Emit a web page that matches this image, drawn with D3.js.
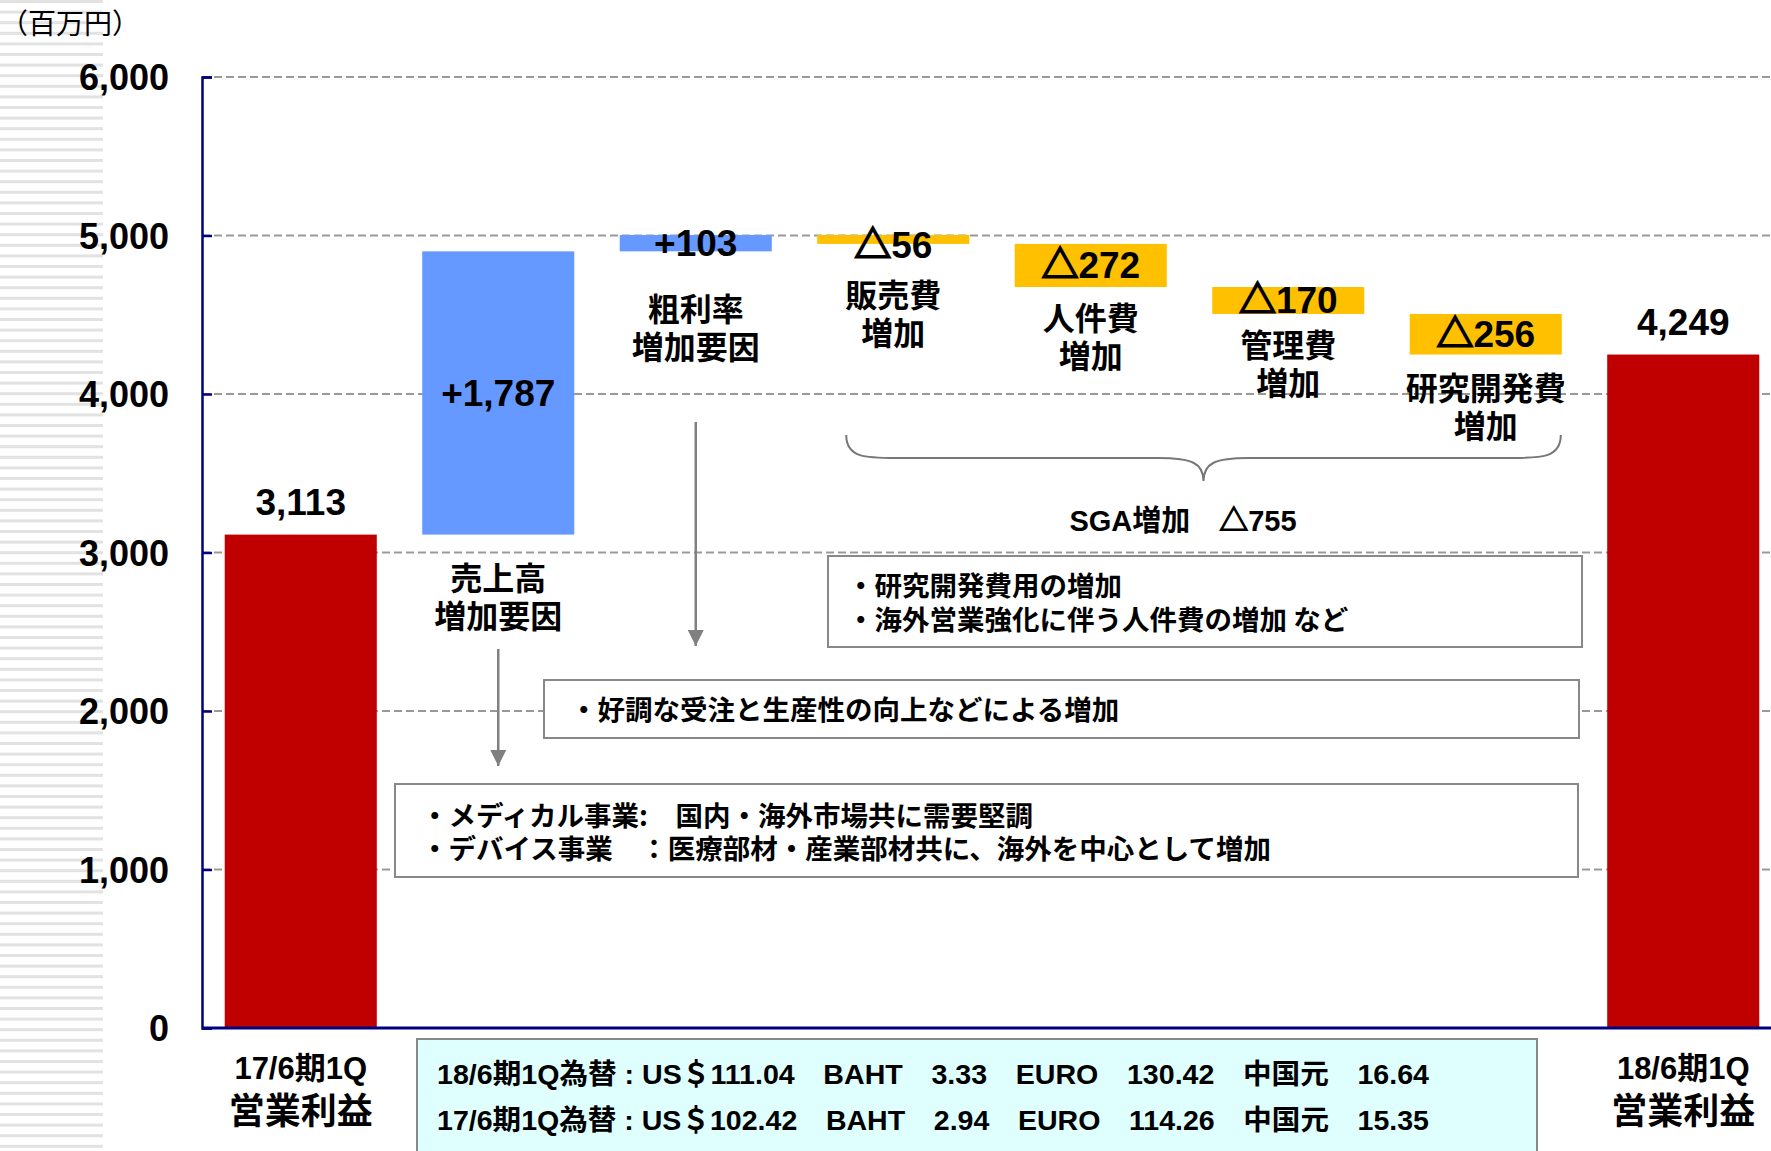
<!DOCTYPE html>
<html>
<head>
<meta charset="utf-8">
<script src="https://cdn.jsdelivr.net/npm/d3@7"></script>
<style>
  html, body { margin: 0; padding: 0; background: #fff; }
  svg { display: block; }
  text { white-space: pre; }
</style>
</head>
<body>
<div id="chart"></div>
<script>
// chart values
const categories = [
  "17/6期1Q\n営業利益",
  "売上高\n増加要因",
  "粗利率\n増加要因",
  "販売費\n増加",
  "人件費\n増加",
  "管理費\n増加",
  "研究開発費\n増加",
  "18/6期1Q\n営業利益"
];
const values = [3113, 1787, 103, -56, -272, -170, -256, 4249];
const kinds = ["total", "up", "up", "down", "down", "down", "down", "total"];
const valueLabels = ["3,113", "+1,787", "+103", "△56", "△272", "△170", "△256", "4,249"];
const yTicks = [0, 1000, 2000, 3000, 4000, 5000, 6000];

const unitLabel = "（百万円）";
const sgaLabel = "SGA増加　△755";
const noteSga = ["・研究開発費用の増加", "・海外営業強化に伴う人件費の増加 など"];
const noteMargin = ["・好調な受注と生産性の向上などによる増加"];
const noteSales = ["・メディカル事業:　国内・海外市場共に需要堅調", "・デバイス事業　：医療部材・産業部材共に、海外を中心として増加"];
const fxLines = [
  "18/6期1Q為替 : US＄111.04　BAHT　3.33　EURO　130.42　中国元　16.64",
  "17/6期1Q為替 : US＄102.42　BAHT　2.94　EURO　114.26　中国元　15.35"
];

const colors = { total: "#C00000", up: "#6699FF", down: "#FFC000" };
const numFont = "'Liberation Sans', Arial, 'Noto Sans CJK JP', sans-serif";
const jpFont = "'Noto Sans CJK JP', 'Liberation Sans', sans-serif";

const width = 1771, height = 1151;
const axisX = 202;

// waterfall start / end
let run = 0;
const bars = values.map((v, i) => {
  let start, end;
  if (kinds[i] === "total") { start = 0; end = v; run = v; }
  else { start = run; end = run + v; run = end; }
  return { i, v, start, end, kind: kinds[i], label: valueLabels[i], cat: categories[i].split("\n") };
});

const x = d3.scaleBand()
  .domain(d3.range(categories.length))
  .range([axisX, 1782])
  .paddingInner(0.23)
  .paddingOuter(0.115);

const y = d3.scaleLinear()
  .domain([0, 6000])
  .range([1028, 77]);

const svg = d3.select("#chart").append("svg")
  .attr("width", width)
  .attr("height", height);

// splits a "△123" label so the triangle can be drawn heavier
function withDelta(sel, strokeW) {
  sel.each(function (t) {
    const el = d3.select(this);
    const parts = t.startsWith("△") ? ["△", t.slice(1)] : [t];
    el.selectAll("tspan")
      .data(parts)
      .join("tspan")
      .attr("stroke", d => d === "△" ? "#000" : null)
      .attr("stroke-width", d => d === "△" ? strokeW : null)
      .text(d => d);
  });
}

// striped strip on the left edge
svg.append("g").selectAll("rect")
  .data(d3.range(0, height, 10.6))
  .join("rect")
  .attr("x", 0).attr("y", d => d)
  .attr("width", 103).attr("height", 3)
  .attr("fill", "#e2e2e2");

svg.append("text")
  .attr("x", 0).attr("y", 34)
  .attr("font-family", jpFont).attr("font-size", 28)
  .attr("fill", "#000")
  .text(unitLabel);

// gridlines
svg.append("g").selectAll("line")
  .data(yTicks.filter(d => d > 0))
  .join("line")
  .attr("x1", axisX).attr("x2", width)
  .attr("y1", d => y(d)).attr("y2", d => y(d))
  .attr("stroke", "#999").attr("stroke-width", 2)
  .attr("stroke-dasharray", "8,4");

// y axis
const yAxis = d3.axisRight(y).tickValues(yTicks).tickSize(10).tickFormat("");
const ya = svg.append("g").attr("transform", `translate(${axisX},0)`).call(yAxis);
ya.select(".domain").attr("stroke", "#000080").attr("stroke-width", 2.5);
ya.selectAll(".tick line").attr("stroke", "#000080").attr("stroke-width", 2.5);

svg.append("g").selectAll("text")
  .data(yTicks)
  .join("text")
  .attr("x", 169).attr("y", d => y(d) + 13)
  .attr("text-anchor", "end")
  .attr("font-family", numFont).attr("font-weight", "bold").attr("font-size", 36)
  .text(d => d3.format(",")(d));

// note boxes (drawn over the gridlines)
function noteBox(x0, y0, x1, y1, lines, tx, ty, lh, fill) {
  svg.append("rect")
    .attr("x", x0).attr("y", y0)
    .attr("width", x1 - x0).attr("height", y1 - y0)
    .attr("fill", fill || "#fff")
    .attr("stroke", "#888").attr("stroke-width", 2);
  svg.append("g").selectAll("text")
    .data(lines)
    .join("text")
    .attr("x", tx).attr("y", (d, i) => ty + i * lh)
    .attr("font-family", jpFont).attr("font-weight", "bold").attr("font-size", 27.5)
    .text(d => d);
}
noteBox(828, 556, 1582, 647, noteSga, 847, 596, 34);
noteBox(544, 680, 1579, 738, noteMargin, 570, 720, 34);
noteBox(395, 784, 1578, 877, noteSales, 421, 826, 33);

// footer fx box
svg.append("rect")
  .attr("x", 417).attr("y", 1039)
  .attr("width", 1120).attr("height", 130)
  .attr("fill", "#DFFFFF")
  .attr("stroke", "#888").attr("stroke-width", 2);
svg.append("g").selectAll("text")
  .data(fxLines)
  .join("text")
  .attr("x", 437).attr("y", (d, i) => 1084 + i * 46)
  .attr("font-family", "'Liberation Sans Narrow', " + numFont)
  .attr("font-weight", "bold").attr("font-size", 28)
  .attr("textLength", 992).attr("lengthAdjust", "spacingAndGlyphs")
  .text(d => d);

// bars
svg.append("g").selectAll("rect")
  .data(bars)
  .join("rect")
  .attr("x", d => x(d.i))
  .attr("y", d => y(Math.max(d.start, d.end)))
  .attr("width", x.bandwidth())
  .attr("height", d => Math.abs(y(d.start) - y(d.end)))
  .attr("fill", d => colors[d.kind]);

// baseline
svg.append("line")
  .attr("x1", axisX).attr("x2", width)
  .attr("y1", y(0)).attr("y2", y(0))
  .attr("stroke", "#000080").attr("stroke-width", 3);

// value labels: above totals, centred on floating bars
svg.append("g").selectAll("text")
  .data(bars)
  .join("text")
  .attr("x", d => x(d.i) + x.bandwidth() / 2)
  .attr("y", d => {
    if (d.kind === "total") return y(d.end) - 20;
    const top = y(Math.max(d.start, d.end));
    const mid = (y(d.start) + y(d.end)) / 2 + 13;
    return Math.max(mid, top + (d.kind === "down" ? 23 : 18));
  })
  .attr("text-anchor", "middle")
  .attr("font-family", numFont).attr("font-weight", "bold").attr("font-size", 37)
  .datum(d => d.label)
  .call(withDelta, 1.8);

// category labels under floating bars
const catGap = [0, 44, 59, 52, 32, 32, 34, 0];
const floating = bars.filter(d => d.kind !== "total");
svg.append("g").selectAll("text")
  .data(floating)
  .join("text")
  .attr("x", d => x(d.i) + x.bandwidth() / 2)
  .attr("y", d => y(Math.min(d.start, d.end)) + catGap[d.i] + 11)
  .attr("text-anchor", "middle")
  .attr("font-family", jpFont).attr("font-weight", "bold").attr("font-size", 32)
  .selectAll("tspan")
  .data(d => d.cat)
  .join("tspan")
  .attr("x", function () { return d3.select(this.parentNode).attr("x"); })
  .attr("dy", (d, i) => i === 0 ? 0 : 38)
  .text(d => d);

// x labels under totals
const totals = bars.filter(d => d.kind === "total");
totals.forEach(d => {
  const cx = x(d.i) + x.bandwidth() / 2;
  svg.append("text")
    .attr("x", cx).attr("y", 1079)
    .attr("text-anchor", "middle")
    .attr("font-family", numFont).attr("font-weight", "bold").attr("font-size", 31)
    .text(d.cat[0]);
  svg.append("text")
    .attr("x", cx).attr("y", 1124)
    .attr("text-anchor", "middle")
    .attr("font-family", jpFont).attr("font-weight", "bold").attr("font-size", 36)
    .text(d.cat[1]);
});

// brace over the SG&A bars
const bx0 = x(3) + 29, bx1 = x(6) + x.bandwidth() - 1, bm = (bx0 + bx1) / 2;
const bTop = 435, bMid = 458, bTip = 481;
svg.append("path")
  .attr("d", `M${bx0},${bTop} C${bx0},${bMid} ${bx0 + 20},${bMid} ${bx0 + 50},${bMid}
              L${bm - 45},${bMid} C${bm - 12},${bMid} ${bm},${bMid + 5} ${bm},${bTip}
              C${bm},${bMid + 5} ${bm + 12},${bMid} ${bm + 45},${bMid}
              L${bx1 - 50},${bMid} C${bx1 - 20},${bMid} ${bx1},${bMid} ${bx1},${bTop}`)
  .attr("fill", "none").attr("stroke", "#777").attr("stroke-width", 2);

svg.append("text")
  .attr("x", 1183).attr("y", 531)
  .attr("text-anchor", "middle")
  .attr("font-family", numFont).attr("font-weight", "bold").attr("font-size", 29)
  .datum(sgaLabel)
  .each(function (t) {
    const i = t.indexOf("△");
    d3.select(this).selectAll("tspan")
      .data([t.slice(0, i), "△", t.slice(i + 1)])
      .join("tspan")
      .attr("stroke", d => d === "△" ? "#000" : null)
      .attr("stroke-width", d => d === "△" ? 1.2 : null)
      .text(d => d);
  });

// arrows from factor labels to their notes
svg.append("defs").append("marker")
  .attr("id", "head")
  .attr("viewBox", "0 0 10 10")
  .attr("refX", 10).attr("refY", 5)
  .attr("markerWidth", 16).attr("markerHeight", 16)
  .attr("markerUnits", "userSpaceOnUse")
  .attr("orient", "auto")
  .append("path").attr("d", "M0,0 L10,5 L0,10 Z").attr("fill", "#808080");

const arrows = [
  { i: 2, y0: 422, y1: 646 },
  { i: 1, y0: 649, y1: 766 }
];
svg.append("g").selectAll("line")
  .data(arrows)
  .join("line")
  .attr("x1", d => x(d.i) + x.bandwidth() / 2).attr("x2", d => x(d.i) + x.bandwidth() / 2)
  .attr("y1", d => d.y0).attr("y2", d => d.y1)
  .attr("stroke", "#808080").attr("stroke-width", 2.5)
  .attr("marker-end", "url(#head)");
</script>
</body>
</html>
